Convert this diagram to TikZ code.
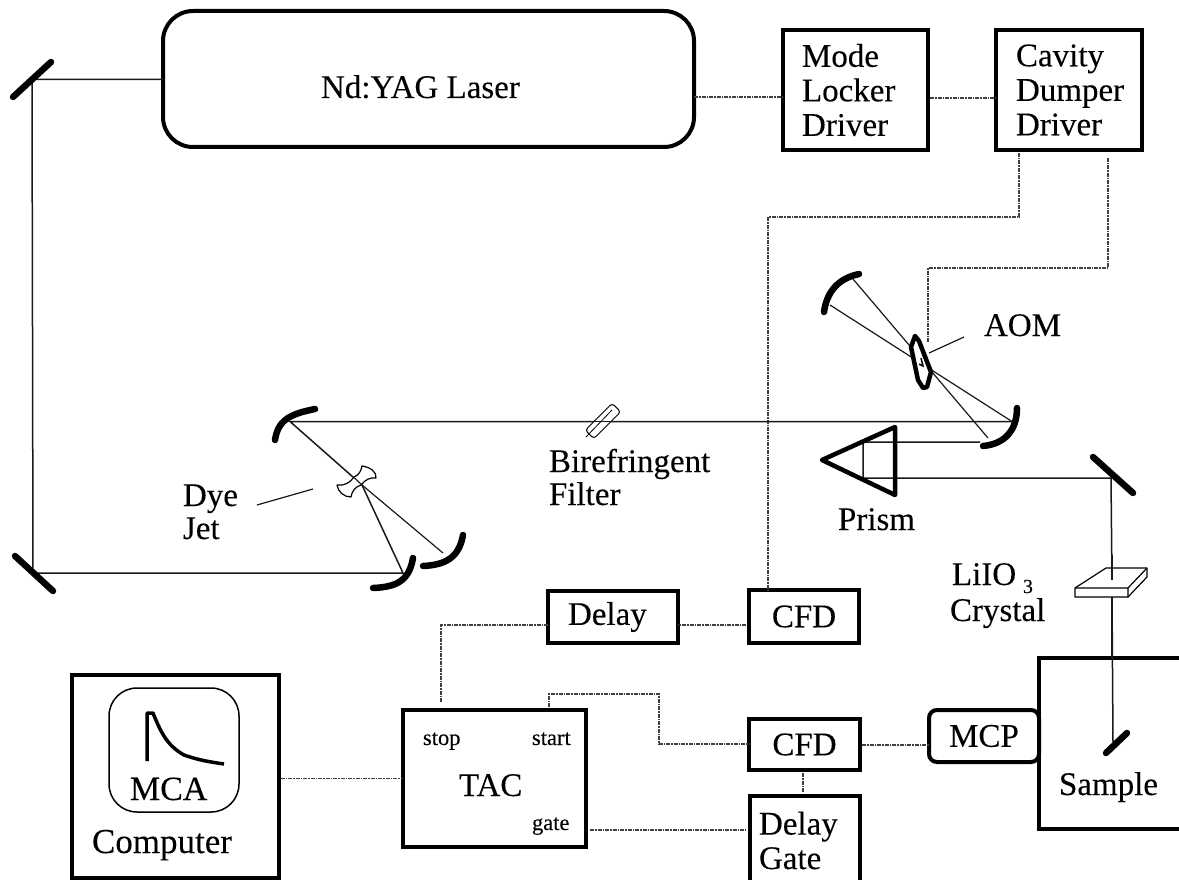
\documentclass[tikz,border=0pt]{standalone}
\usepackage{fontspec}
\setmainfont{Liberation Serif}[FakeBold=0.15]
\tikzset{
  x=1pt,y=-1pt,
  every node/.style={outer sep=0pt,inner sep=0pt},
  box/.style={draw,line width=4pt,rectangle,font=\lbl,align=left},
  txt/.style={font=\lbl,anchor=base west},
  small/.style={font=\fontsize{22.5}{24}\selectfont,anchor=base west},
  beam/.style={line width=1.5pt,draw=black!90},
  thin beam/.style={line width=1.2pt,draw=black!90},
  sig/.style={line width=1.1pt,draw=black!75,dash pattern=on 4pt off 1pt on 1.5pt off 1pt},
  mirror/.style={line width=6.5pt,line cap=round},
  optic/.style={line width=4.5pt,line join=round},
}
\newcommand{\lbl}{\fontsize{33}{34.5}\selectfont}
\begin{document}
\begin{tikzpicture}
\useasboundingbox (0,0) rectangle (1179,880);
\clip (0,0) rectangle (1179,880);

% boxes
\node[draw,line width=4pt,rounded corners=30pt,minimum width=531pt,minimum height=136pt] (laser) at (428.5,79) {};
\node[txt] (lasertext) at (321,98) {Nd:YAG Laser};
\node[box,minimum height=120pt,text width=107pt,inner xsep=19pt] (mode) at (855.5,90) {Mode\\Locker\\Driver};
\node[box,minimum height=120pt,text width=106pt,inner xsep=20pt] (cavity) at (1069,90) {Cavity\\Dumper\\Driver};
\node[box,minimum height=52pt,text width=90pt,inner xsep=20pt] (delay) at (613,617) {Delay};
\node[box,minimum width=110pt,minimum height=53pt] (cfda) at (804,616.5) {CFD};
\node[box,minimum width=111pt,minimum height=51pt] (cfdb) at (804.5,744.5) {CFD};
\node[box,minimum width=110pt,minimum height=89pt,text width=92pt,inner xsep=9pt] (gate) at (805,840.5) {Delay\\Gate};
\node[draw,line width=4pt,minimum width=183pt,minimum height=137pt] (tac) at (494.5,778.5) {};
\node[draw,line width=4pt,minimum width=207pt,minimum height=203pt] (computer) at (175,776.5) {};
\node[draw,line width=1.5pt,rounded corners=28pt,minimum width=130pt,minimum height=124pt] (mca) at (174,750) {};
\node[draw,line width=4pt,minimum width=161pt,minimum height=171pt] (sample) at (1119.5,743.5) {};
\node[box,rounded corners=8pt,fill=white,minimum width=110pt,minimum height=52pt] (mcp) at (984,736) {MCP};

% texts
\node[txt] (tactext) at (459,796) {TAC};
\node[small] (stoptext) at (423,745) {stop};
\node[small] (starttext) at (532,745) {start};
\node[small] (gatetext) at (532,830) {gate};
\node[txt,font=\fontsize{34}{36}\selectfont] (mcatext) at (130,800) {MCA};
\node[txt,font=\fontsize{35}{37}\selectfont] (comptext) at (92,853) {Computer};
\node[txt] (sampletext) at (1059,795) {Sample};
\node[txt] (aomtext) at (984,336) {AOM};
\node[txt] (prismtext) at (838,530) {Prism};
\node[txt] (biretext) at (549,472) {Birefringent};
\node[txt] (filtertext) at (549,505) {Filter};
\node[txt] (dyetext) at (183,506) {Dye};
\node[txt] (jettext) at (183,539) {Jet};
\node[txt] (liiotext) at (952,585) {LiIO};
\node[txt,font=\fontsize{20}{22}\selectfont] (threetext) at (1023,593) {3};
\node[txt] (crystext) at (950,621) {Crystal};

% optical coordinates
\coordinate (ml) at (32,79.5);
\coordinate (mb) at (33,573);
\coordinate (ca) at (290,421.5);
\coordinate (jet) at (362,485);
\coordinate (cb) at (403,573);
\coordinate (cc) at (443,553);
\coordinate (fa) at (1012,421.5);
\coordinate (ua) at (853,279);
\coordinate (ub) at (830,305);
\coordinate (fb) at (988,438);
\coordinate (fc) at (980,442);
\coordinate (pin) at (863,442);
\coordinate (pout) at (863,478);
\coordinate (mr) at (1111,478);
\coordinate (xtop) at (1112,580);
\coordinate (xbot) at (1112,597);
\coordinate (ms) at (1113,742);

% signal wires
\draw[sig] (laser.east |- 0,97) -- (mode.west |- 0,97);
\draw[sig,shorten <=2pt] (mode.east |- 0,98) -- (cavity.west |- 0,98);
\draw[sig,shorten <=3pt] ([xshift=-50pt]cavity.south) -- ++(0,67) -| ([xshift=-36pt]cfda.north);
\coordinate (aomwire) at (928,343);
\draw[sig,shorten <=8pt] ([xshift=39pt]cavity.south) -- ++(0,118) -| (aomwire);
\draw[sig,shorten <=3pt] (cfda.west |- 0,625) -- (delay.east |- 0,625);
\draw[sig] (delay.west |- 0,625) -| ([xshift=-53.5pt,yshift=7pt]tac.north);
\draw[sig,shorten <=3pt] ([xshift=54.5pt]tac.north) -- ++(0,-16) -| (659,744) -- (cfdb.west |- 0,744);
\draw[sig,shorten <=2pt] (cfdb.east |- 0,745) -- (mcp.west |- 0,745);
\draw[sig,shorten <=3pt,shorten >=3pt] (803,770) -- (803,796);
\draw[sig,shorten <=4pt,shorten >=4pt] (tac.east |- 0,830) -- (gate.west |- 0,830);
\draw[sig,shorten <=2pt] (computer.east |- tac.west) -- (tac.west);

% beams
\draw[beam] (laser.west |- ml) -- (ml) -- (mb) -- (cb) -- (jet) -- (ca) -- (fa);
\draw[thin beam] (jet) -- (cc);
\draw[thin beam] (fa) -- (ub);
\draw[thin beam] (ua) -- (fb);
\draw[beam] (fc) -- (pin) -- (pout) -- (mr) -- (xtop);
\draw[beam] (xbot) -- (ms);
\draw[thin beam] (sample.north -| xbot) -- (xbot);

% leader lines
\coordinate (dyea) at (257,505); \coordinate (dyeb) at (313,489);
\coordinate (aoma) at (929,353); \coordinate (aomb) at (964,337);
\draw[thin beam] (dyea) -- (dyeb);
\draw[thin beam] (aoma) -- (aomb);

% flat mirrors
\draw[mirror] (13,97) -- (51,62);
\draw[mirror] (15,556) -- (53,591);
\draw[mirror] (1093,457) -- (1133,493);
\draw[mirror] (1106,753) -- (1127,733);

% curved mirrors
\draw[mirror] (275,440) .. controls (278,420) and (290,414) .. (315,409);
\draw[mirror] (373,588) .. controls (395,587) and (409,582) .. (413,558);
\draw[mirror] (423,566) .. controls (445,565) and (459,558) .. (463,535);
\draw[mirror] (824,312) .. controls (827,290) and (840,278) .. (859,274);
\draw[mirror] (1017,408) .. controls (1017,430) and (1005,444) .. (983,446);

% dye jet
\draw[line width=1.2pt,fill=white,line join=round] (362,466)
  .. controls (370,467) and (377,472) .. (376,478)
  .. controls (370,477) and (365,480) .. (361,485)
  .. controls (355,487) and (352,491) .. (351,497)
  .. controls (344,497) and (338,492) .. (337,485)
  .. controls (344,486) and (350,483) .. (354,477)
  .. controls (359,475) and (361,471) .. (362,466) -- cycle;
\draw[thin beam] (354,477.5) -- (362,485);

% birefringent filter
\node[draw,line width=1pt,fill=white,rounded corners=3pt,minimum width=38pt,minimum height=12pt,rotate=45] (filter) at (603,421) {};
\draw[beam] (590,421.5) -- (618,421.5);
\draw[line width=.8pt] (586,437) -- (612,410);

% AOM
\draw[optic,fill=white] (911,347) -- (915,336) -- (919,341) -- (931,372) -- (927,387) -- (923,388) -- (918,380) -- cycle;
\draw[line width=1.5pt] (921,358) -- (923,366) -- (919,364);

% prism
\coordinate (pt) at (822,460); \coordinate (pu) at (895,427); \coordinate (pd) at (895,495);
\draw[optic] (pt) -- (pu) -- (pd) -- cycle;

% crystal
\draw[line width=1.2pt,line join=round,fill=white] (1075,588) -- (1106,568) -- (1147,568) -- (1147,577) -- (1128,597) -- (1075,597) -- cycle;
\draw[line width=1.2pt] (1075,588) -- (1128,588) -- (1147,568) (1128,588) -- (1128,597);
\draw[beam] (1112,555) -- (xtop);

% decay curve
\draw[line width=3.5pt,line join=round] (147,761) -- (147,713) -- (153,713) .. controls (160,730) and (166,745) .. (184,755) .. controls (198,760) and (210,762) .. (224,764);
\end{tikzpicture}
\end{document}
